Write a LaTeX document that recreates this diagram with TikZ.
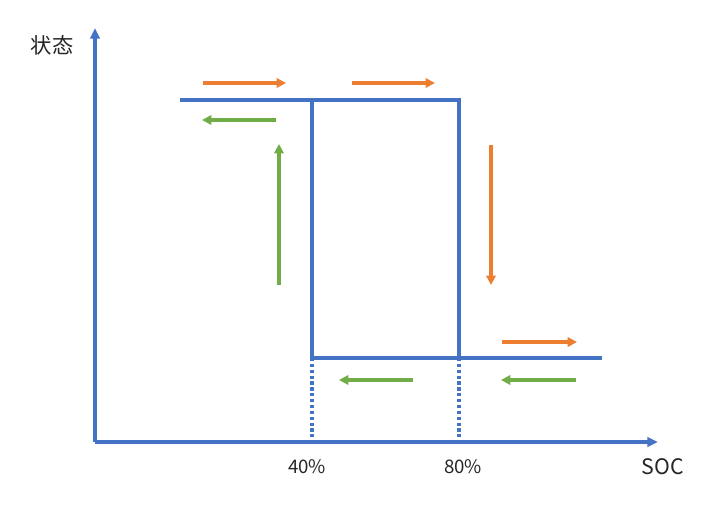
\documentclass[tikz,border=0pt]{standalone}
\usepackage{fontspec}
\setmainfont{Noto Sans CJK SC}
\usetikzlibrary{arrows.meta}
\definecolor{axisblue}{HTML}{4472C4}
\definecolor{fwdorange}{HTML}{ED7D31}
\definecolor{backgreen}{HTML}{70AD47}
\tikzset{
  axis/.style={axisblue, line width=2.6pt, -{Triangle[length=8pt,width=7pt]}},
  loop/.style={axisblue, line width=2.6pt},
  guide/.style={axisblue, line width=2.4pt, dotted},
  charge/.style={fwdorange, line width=2.4pt, -{Triangle[length=7pt,width=7pt]}},
  discharge/.style={backgreen, line width=2.4pt, -{Triangle[length=7pt,width=7pt]}},
  lbl/.style={font=\fontsize{16}{19}\selectfont, text=black!85}
}

\begin{document}
\begin{tikzpicture}[x=0.75pt,y=-0.75pt]
    \useasboundingbox (0,0) rectangle (724,513);
    % axes
    \coordinate (o) at (95,442);
    \coordinate (ytop) at (95,28);
    \coordinate (xend) at (658,442);
    \draw[axis] (o) -- (ytop);
    \draw[axis] (o) -- (xend);
    \node[lbl] (state) at (52,45) {状态};
    \node[lbl] (soc) at (663,467) {SOC};
    \node[lbl, font=\fontsize{14}{17}\selectfont] (p40) at (307,467) {40\%};
    \node[lbl, font=\fontsize{14}{17}\selectfont] (p80) at (463,467) {80\%};
    % hysteresis loop
    \coordinate (hl) at (180,100);
    \coordinate (h40) at (312,100);
    \coordinate (h80) at (459,100);
    \coordinate (l40) at (312,358);
    \coordinate (l80) at (459,358);
    \coordinate (lr) at (602,358);
    \draw[loop] (hl) -- (h80) -- (l80);
    \draw[loop] (h40) -- (l40) -- (lr);
    \draw[guide] (l40) -- (o -| l40);
    \draw[guide] (l80) -- (o -| l80);
    % charging (orange)
    \draw[charge] (203,83) -- (286,83);
    \draw[charge] (352,83) -- (435,83);
    \draw[charge] (491,145) -- (491,285);
    \draw[charge] (502,342) -- (577,342);
    % discharging (green)
    \draw[discharge] (276,120) -- (202,120);
    \draw[discharge] (279,285) -- (279,144);
    \draw[discharge] (413,380) -- (339,380);
    \draw[discharge] (576,380) -- (501,380);
\end{tikzpicture}
\end{document}
